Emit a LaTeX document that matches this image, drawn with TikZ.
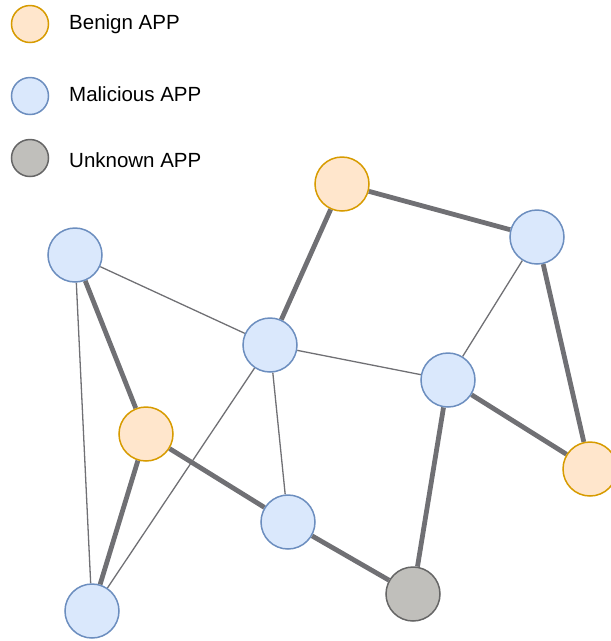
\documentclass[tikz,border=0pt]{standalone}
\usepackage{fontspec}
\setmainfont{Liberation Sans}
\usetikzlibrary{backgrounds}
\definecolor{bfill}{HTML}{FFE6CC}
\definecolor{bdraw}{HTML}{D79B00}
\definecolor{mfill}{HTML}{DAE8FC}
\definecolor{mdraw}{HTML}{6C8EBF}
\definecolor{ufill}{HTML}{C0BFBB}
\definecolor{udraw}{HTML}{666666}
\definecolor{edgec}{HTML}{707074}
\begin{document}
\begin{tikzpicture}[x=1pt,y=-1pt,
  app/.style={circle,minimum size=54pt,inner sep=0pt,line width=1.5pt},
  leg/.style={circle,minimum size=37pt,inner sep=0pt,line width=1.5pt},
  benign/.style={fill=bfill,draw=bdraw},
  malic/.style={fill=mfill,draw=mdraw},
  unkn/.style={fill=ufill,draw=udraw},
  thickedge/.style={draw=edgec,line width=4.8pt},
  thinedge/.style={draw=edgec,line width=1.3pt},
  legtext/.style={anchor=base west,inner sep=0pt,font=\fontsize{20.5}{23}\selectfont}]
\useasboundingbox (0,0) rectangle (611,641);
% legend
\node[leg,benign] (l1) at (30,24) {};
\node[leg,malic] (l2) at (30,96) {};
\node[leg,unkn] (l3) at (30,158) {};
\node[legtext] (t1) at (69,29.5) {Benign APP};
\node[legtext] (t2) at (69,101) {Malicious APP};
\node[legtext] (t3) at (69,167) {Unknown APP};
% nodes
\node[app,malic] (A) at (75,255) {};
\node[app,malic] (B) at (270,345) {};
\node[app,benign] (C) at (342,184) {};
\node[app,malic] (D) at (537,237) {};
\node[app,malic] (E) at (448,380) {};
\node[app,benign] (F) at (146,434) {};
\node[app,benign] (G) at (590,469) {};
\node[app,malic] (H) at (288,522) {};
\node[app,unkn] (I) at (413,594) {};
\node[app,malic] (J) at (92,611) {};
% edges
\begin{scope}[on background layer]
\draw[thickedge] (C) -- (B);
\draw[thickedge] (C) -- (D);
\draw[thickedge] (D) -- (G);
\draw[thickedge] (E) -- (G);
\draw[thickedge] (E) -- (I);
\draw[thickedge] (A) -- (F);
\draw[thickedge] (F) -- (J);
\draw[thickedge] (F) -- (H);
\draw[thickedge] (H) -- (I);
\draw[thinedge] (A) -- (B);
\draw[thinedge] (A) -- (J);
\draw[thinedge] (B) -- (E);
\draw[thinedge] (B) -- (H);
\draw[thinedge] (B) -- (J);
\draw[thinedge] (D) -- (E);
\end{scope}
\end{tikzpicture}
\end{document}
